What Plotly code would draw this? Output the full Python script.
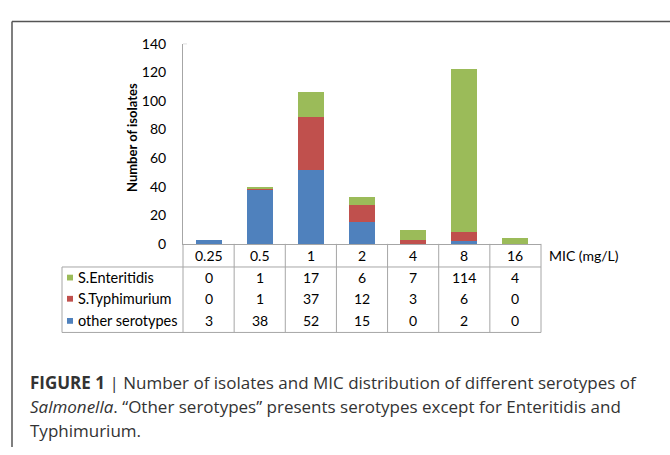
import plotly.graph_objects as go

# ---- data ----
mic = ["0.25", "0.5", "1", "2", "4", "8", "16"]
enteritidis = [0, 1, 17, 6, 7, 114, 4]
typhimurium = [0, 1, 37, 12, 3, 6, 0]
other = [3, 38, 52, 15, 0, 2, 0]
series_names = ["S.Enteritidis", "S.Typhimurium", "other serotypes"]
series_colors = ["#9bbb59", "#c0504d", "#4f81bd"]
y_ticks = [0, 20, 40, 60, 80, 100, 120, 140]

W, H = 670, 455


def xp(px):
    return px / W


def yp(py):
    return 1 - py / H


FONT = "Lato, Carlito, Calibri, sans-serif"
GRID = "#a6a6a6"

fig = go.Figure()
for name, vals, col in [("other serotypes", other, "#4f81bd"),
                        ("S.Typhimurium", typhimurium, "#c0504d"),
                        ("S.Enteritidis", enteritidis, "#9bbb59")]:
    fig.add_trace(go.Bar(x=mic, y=vals, name=name, marker=dict(color=col, line=dict(width=0))))

plot_left, plot_right = 183, 541
y0_px, ytop_px = 244, 36
ncol = len(mic)
colw = (plot_right - plot_left) / ncol


def col_edge(i):
    return xp(plot_left + i * colw)


def col_center(i):
    return xp(plot_left + (i + 0.5) * colw)


fig.update_layout(
    width=W, height=H, margin=dict(l=0, r=0, t=0, b=0),
    paper_bgcolor="white", plot_bgcolor="white",
    barmode="stack", bargap=0.49, showlegend=False,
    font=dict(family=FONT, size=14, color="#000"),
    xaxis=dict(domain=[xp(plot_left), xp(plot_right)], type="category",
               categoryorder="array", categoryarray=mic, range=[-0.5, 6.5],
               showticklabels=False, ticks="", showline=True, linecolor=GRID,
               linewidth=1, showgrid=False, zeroline=False, fixedrange=True),
    yaxis=dict(domain=[yp(y0_px), yp(ytop_px)], range=[0, 140], tickvals=y_ticks,
               showline=True, linecolor=GRID, linewidth=1, showgrid=False,
               zeroline=False, ticks="", ticklabelstandoff=13,
               tickfont=dict(family=FONT, size=14, color="#000")),
)

shapes = []
line = dict(color=GRID, width=1)
hdr_top, hdr_bot, tbl_bot = 244, 268, 336
leg_left = 62
# column separators
for i in range(ncol + 1):
    shapes.append(dict(type="line", xref="paper", yref="paper", x0=col_edge(i), x1=col_edge(i),
                       y0=yp(hdr_top), y1=yp(tbl_bot), line=line))
# horizontals
shapes.append(dict(type="line", xref="paper", yref="paper", x0=xp(leg_left), x1=xp(plot_right),
                   y0=yp(hdr_bot), y1=yp(hdr_bot), line=line))
shapes.append(dict(type="line", xref="paper", yref="paper", x0=xp(leg_left), x1=xp(plot_right),
                   y0=yp(tbl_bot), y1=yp(tbl_bot), line=line))
shapes.append(dict(type="line", xref="paper", yref="paper", x0=xp(leg_left), x1=xp(leg_left),
                   y0=yp(hdr_bot), y1=yp(tbl_bot), line=line))
# small tick at top of y axis
shapes.append(dict(type="line", xref="paper", yref="y", x0=xp(plot_left), x1=xp(plot_left + 4),
                   y0=140, y1=140, line=line))
# outer frame
frame = dict(color="#555555", width=1.5)
shapes.append(dict(type="line", xref="paper", yref="paper", x0=xp(12), x1=xp(12),
                   y0=0, y1=yp(13), line=frame))
shapes.append(dict(type="line", xref="paper", yref="paper", x0=xp(12), x1=1,
                   y0=yp(13), y1=yp(13), line=frame))

annotations = []
# header row
for i, m in enumerate(mic):
    annotations.append(dict(x=col_center(i), xref="paper", y=yp(256), yref="paper", text=m,
                            showarrow=False, xanchor="center", yanchor="middle", font=dict(size=14)))
annotations.append(dict(x=xp(547), xref="paper", y=yp(256), yref="paper", text="MIC (mg/L)",
                        showarrow=False, xanchor="left", yanchor="middle", font=dict(size=14)))
# data rows
row_centers = [279, 301, 324]
for name, vals, col, yc in zip(series_names, [enteritidis, typhimurium, other], series_colors, row_centers):
    annotations.append(dict(x=xp(76), xref="paper", y=yp(yc), yref="paper", text=name,
                            showarrow=False, xanchor="left", yanchor="middle", font=dict(size=14.5)))
    shapes.append(dict(type="rect", xref="paper", yref="paper", x0=xp(67), x1=xp(73),
                       y0=yp(yc - 3), y1=yp(yc + 3), fillcolor=col, line=dict(width=0)))
    for i, v in enumerate(vals):
        annotations.append(dict(x=col_center(i), xref="paper", y=yp(yc), yref="paper", text=str(v),
                                showarrow=False, xanchor="center", yanchor="middle", font=dict(size=14)))
# y title
annotations.append(dict(x=xp(132), xref="paper", y=yp(134), yref="paper", text="<b>Number of isolates</b>",
                        textangle=-90, showarrow=False, xanchor="center", yanchor="middle",
                        font=dict(size=13)))
# caption
CAP = "Open Sans, Roboto, Arial, sans-serif"
cap_lines = [
    "<b>FIGURE 1</b> | Number of isolates and MIC distribution of different serotypes of",
    "<i>Salmonella</i>. \u201cOther serotypes\u201d presents serotypes except for Enteritidis and",
    "Typhimurium.",
]
for txt, yc in zip(cap_lines, [388, 413, 438]):
    annotations.append(dict(x=xp(28), xref="paper", y=yp(yc), yref="paper", text=txt,
                            showarrow=False, xanchor="left", yanchor="middle",
                            font=dict(family=CAP, size=17, color="#333333")))

fig.update_layout(shapes=shapes, annotations=annotations)
fig.write_html("out.html", config={"displayModeBar": False},
               post_script="document.body.style.margin='0';document.body.style.overflow='hidden';")
